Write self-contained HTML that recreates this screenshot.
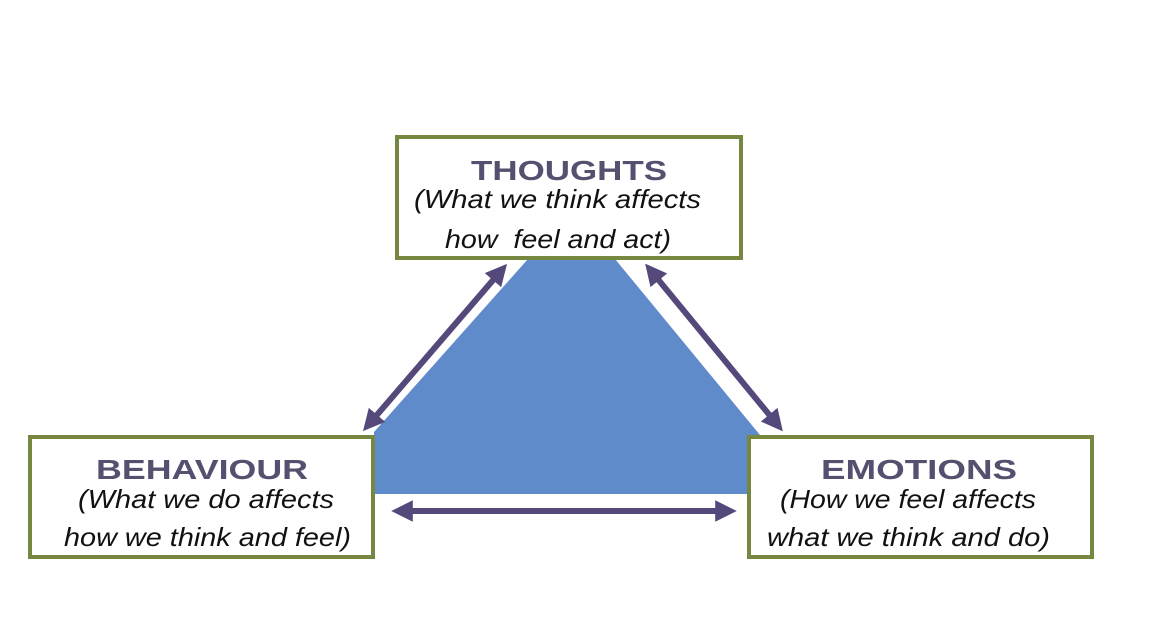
<!DOCTYPE html>
<html><head><style>body{margin:0;background:#fff}svg{display:block}</style></head><body>
<svg width="1158" height="624" viewBox="0 0 1158 624" xmlns="http://www.w3.org/2000/svg">
<defs>
<marker id="a" viewBox="0 0 10 10" refX="5" refY="5" markerWidth="3.6" markerHeight="3.6" orient="auto-start-reverse"><path d="M0,0 L10,5 L0,10 z" fill="#55487a"/></marker>
</defs>
<polygon points="528,259 615,259 760,435 760,494 374,494 374,432" fill="#5f8bcb"/>
<g stroke="#55487a" stroke-width="6" marker-start="url(#a)" marker-end="url(#a)">
<line x1="500" y1="272" x2="370" y2="423"/>
<line x1="652" y1="272" x2="776" y2="423"/>
<line x1="402" y1="511" x2="726" y2="511"/>
</g>
<g fill="#fff" stroke="#76883f" stroke-width="4">
<rect x="397" y="137" width="344" height="121"/>
<rect x="30" y="437" width="343" height="120"/>
<rect x="749" y="437" width="343" height="120"/>
</g>
<g font-family="Liberation Sans, sans-serif" font-weight="bold" fill="#55506f" font-size="28" text-anchor="middle">
<text x="569" y="180" textLength="196" lengthAdjust="spacingAndGlyphs">THOUGHTS</text>
<text x="202" y="479" textLength="212" lengthAdjust="spacingAndGlyphs">BEHAVIOUR</text>
<text x="919" y="479" textLength="196" lengthAdjust="spacingAndGlyphs">EMOTIONS</text>
</g>
<g font-family="Liberation Sans, sans-serif" font-style="italic" fill="#111" font-size="26">
<text x="414" y="208" textLength="287" lengthAdjust="spacingAndGlyphs">(What we think affects</text>
<text x="445" y="248" textLength="226" lengthAdjust="spacingAndGlyphs">how &#160;feel and act)</text>
<text x="78" y="508" textLength="256" lengthAdjust="spacingAndGlyphs">(What we do affects</text>
<text x="64" y="546" textLength="287" lengthAdjust="spacingAndGlyphs">how we think and feel)</text>
<text x="780" y="508" textLength="256" lengthAdjust="spacingAndGlyphs">(How we feel affects</text>
<text x="767" y="546" textLength="283" lengthAdjust="spacingAndGlyphs">what we think and do)</text>
</g>
</svg>
</body></html>
